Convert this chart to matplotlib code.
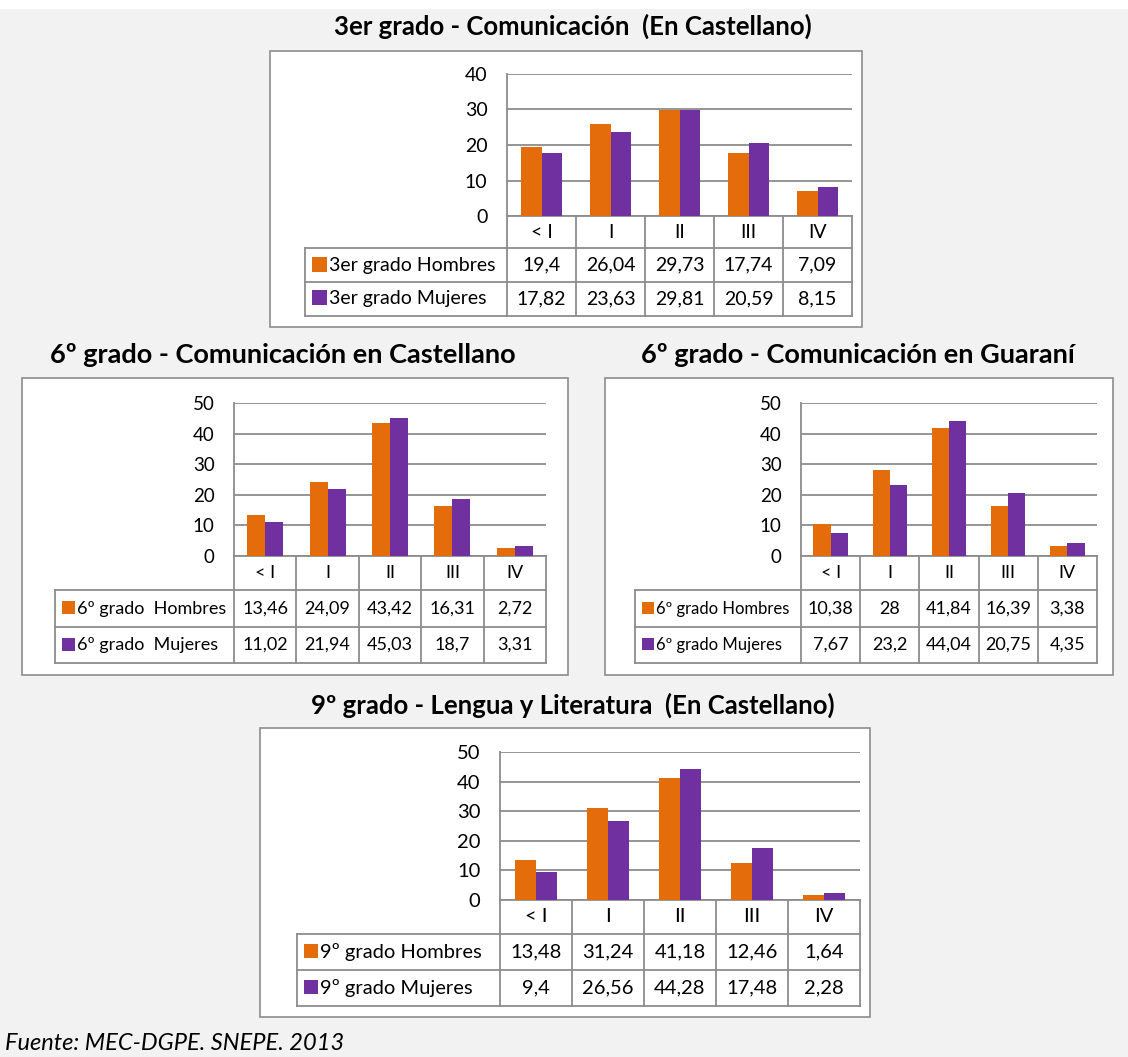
import matplotlib
matplotlib.use("Agg")
import matplotlib.pyplot as plt
from matplotlib.patches import Rectangle

plt.rcParams["font.family"] = ["Lato", "DejaVu Sans"]

categorias = ["< I", "I", "II", "III", "IV"]

hombres_3 = [19.4, 26.04, 29.73, 17.74, 7.09]
mujeres_3 = [17.82, 23.63, 29.81, 20.59, 8.15]
hombres_6c = [13.46, 24.09, 43.42, 16.31, 2.72]
mujeres_6c = [11.02, 21.94, 45.03, 18.7, 3.31]
hombres_6g = [10.38, 28, 41.84, 16.39, 3.38]
mujeres_6g = [7.67, 23.2, 44.04, 20.75, 4.35]
hombres_9 = [13.48, 31.24, 41.18, 12.46, 1.64]
mujeres_9 = [9.4, 26.56, 44.28, 17.48, 2.28]

titulos = [
    "3er grado - Comunicación  (En Castellano)",
    "6º grado - Comunicación en Castellano",
    "6º grado - Comunicación en Guaraní",
    "9º grado - Lengua y Literatura  (En Castellano)",
]
etiquetas = [
    ("3er grado Hombres", "3er grado Mujeres"),
    ("6º grado  Hombres", "6º grado  Mujeres"),
    ("6º grado Hombres", "6º grado Mujeres"),
    ("9º grado Hombres", "9º grado Mujeres"),
]
series = [
    (hombres_3, mujeres_3),
    (hombres_6c, mujeres_6c),
    (hombres_6g, mujeres_6g),
    (hombres_9, mujeres_9),
]
ymax = [40, 50, 50, 50]

NARANJA = "#E46C0A"
MORADO = "#7030A0"
GRIS = "#8C8C8C"

W, H = 1128, 1057

# layout in pixels: box, title centre, plot area, table row bottoms, label column left,
# font sizes for title / ticks / row labels / cell values
layout = [
    dict(box=(270, 51, 862, 327), tit=(573, 26), x0=507, x1=852, ytop=74, yz=216,
         rows=(248, 282, 316), lx=305, fs=(18.5, 14, 14, 14), sw=15),
    dict(box=(22, 378, 568, 675), tit=(283, 355), x0=234, x1=546, ytop=403, yz=556,
         rows=(590, 627, 663), lx=55, fs=(19.5, 13.5, 13, 13), sw=13),
    dict(box=(605, 378, 1113, 675), tit=(858, 355), x0=801, x1=1097, ytop=403, yz=556,
         rows=(590, 627, 663), lx=635, fs=(19.5, 13.5, 12, 13), sw=12),
    dict(box=(260, 728, 870, 1017), tit=(573, 705), x0=500, x1=860, ytop=752, yz=900,
         rows=(934, 970, 1006), lx=297, fs=(18.5, 14.5, 14.5, 14.5), sw=14),
]


def fx(x):
    return x / W


def fy(y):
    return 1 - y / H


def fmt(v):
    return f"{v:g}".replace(".", ",")


fig = plt.figure(figsize=(W / 100, H / 100), dpi=100, facecolor="#F2F2F2")
fig.patches.append(Rectangle((0, fy(9)), 1, 1 - fy(9), transform=fig.transFigure,
                             facecolor="white", edgecolor="none", zorder=-10))

for k, L in enumerate(layout):
    fs_tit, fs_tick, fs_lab, fs_val = L["fs"]
    bx0, by0, bx1, by1 = L["box"]
    fig.patches.append(Rectangle((fx(bx0), fy(by1)), fx(bx1) - fx(bx0), fy(by0) - fy(by1),
                                 transform=fig.transFigure, facecolor="white",
                                 edgecolor=GRIS, linewidth=1.2, zorder=-10))
    fig.text(fx(L["tit"][0]), fy(L["tit"][1]), titulos[k], ha="center", va="center",
             fontsize=fs_tit, fontweight="bold")

    # bar chart
    ax = fig.add_axes([fx(L["x0"]), fy(L["yz"]), fx(L["x1"]) - fx(L["x0"]),
                       fy(L["ytop"]) - fy(L["yz"])])
    ax.set_facecolor("none")
    h, m = series[k]
    n = len(categorias)
    w = 0.29
    pos = range(n)
    ax.bar([p - w / 2 for p in pos], h, width=w, color=NARANJA, zorder=3)
    ax.bar([p + w / 2 for p in pos], m, width=w, color=MORADO, zorder=3)
    ax.set_xlim(-0.5, n - 0.5)
    ax.set_ylim(0, ymax[k])
    ax.set_yticks(range(0, ymax[k] + 1, 10))
    ax.set_xticks([])
    ax.yaxis.grid(True, color=GRIS, linewidth=1.3, zorder=0)
    ax.tick_params(axis="y", length=0, pad=14, labelsize=fs_tick)
    for s in ["top", "right"]:
        ax.spines[s].set_visible(False)
    for s in ["left", "bottom"]:
        ax.spines[s].set_color(GRIS)
        ax.spines[s].set_linewidth(1.3)

    # data table underneath
    lx, x0, x1, yz = L["lx"], L["x0"], L["x1"], L["yz"]
    r0, r1, r2 = L["rows"]
    tab = fig.add_axes([fx(lx), fy(r2), fx(x1) - fx(lx), fy(yz) - fy(r2)])
    tab.set_xlim(lx, x1)
    tab.set_ylim(r2, yz)
    tab.axis("off")
    cw = (x1 - x0) / n
    lk = dict(color=GRIS, linewidth=1.3, clip_on=False)
    for i in range(n + 1):
        tab.plot([x0 + i * cw] * 2, [yz, r2], **lk)
    tab.plot([lx, lx], [r0, r2], **lk)
    for y in (r0, r1, r2):
        tab.plot([lx, x1], [y, y], **lk)
    for i, c in enumerate(categorias):
        tab.text(x0 + (i + 0.5) * cw, (yz + r0) / 2, c, ha="center", va="center",
                 fontsize=fs_val)
    sw = L["sw"]
    for j, (vals, col, lab) in enumerate([(h, NARANJA, etiquetas[k][0]),
                                           (m, MORADO, etiquetas[k][1])]):
        ya, yb = L["rows"][j], L["rows"][j + 1]
        yc = (ya + yb) / 2
        tab.add_patch(Rectangle((lx + 7, yc - sw / 2 - 1), sw, sw, facecolor=col,
                                edgecolor="none"))
        tab.text(lx + sw + 9, yc, lab, ha="left", va="center", fontsize=fs_lab)
        for i, v in enumerate(vals):
            tab.text(x0 + (i + 0.5) * cw, yc, fmt(v), ha="center", va="center",
                     fontsize=fs_val)

fig.text(fx(5), fy(1043), "Fuente: MEC-DGPE. SNEPE. 2013", ha="left", va="center",
         fontsize=17, fontstyle="italic")

fig.savefig("out.png", dpi=100, facecolor=fig.get_facecolor())
